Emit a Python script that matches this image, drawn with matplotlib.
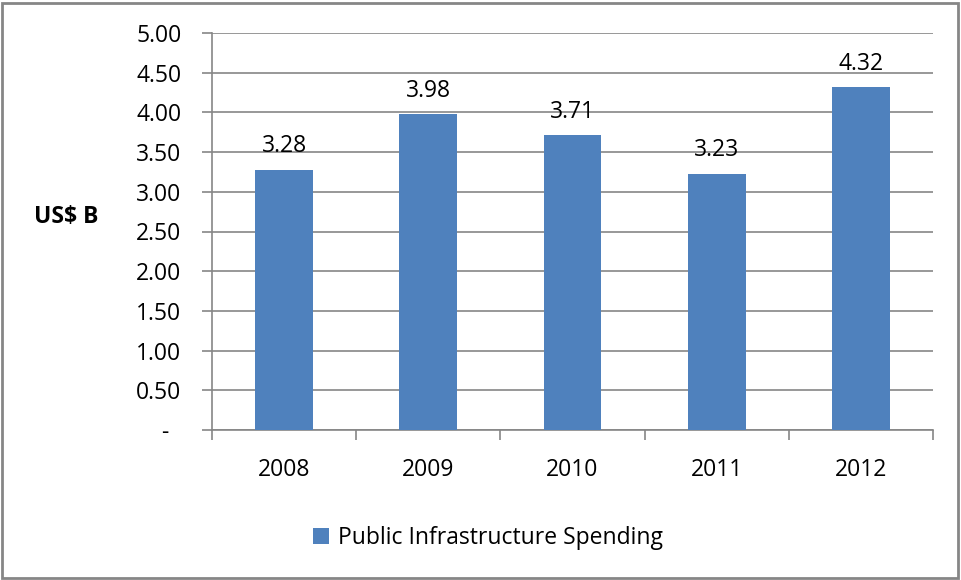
import matplotlib
matplotlib.use("Agg")
import matplotlib.pyplot as plt
from matplotlib.patches import Rectangle
from matplotlib.ticker import FixedLocator

years = ["2008", "2009", "2010", "2011", "2012"]
values = [3.28, 3.98, 3.71, 3.23, 4.32]
yticks = [0, 0.5, 1.0, 1.5, 2.0, 2.5, 3.0, 3.5, 4.0, 4.5, 5.0]
series_name = "Public Infrastructure Spending"

plt.rcParams['font.family'] = ['Open Sans', 'DejaVu Sans']
BAR = "#4F81BD"
GRID = "#868686"
FS = 16.5

fig = plt.figure(figsize=(9.62, 5.80), dpi=100)
ax = fig.add_axes([212/962, 1-430/580, (933-212)/962, (430-33)/580])

x = list(range(len(years)))
bars = ax.bar(x, values, width=0.4, color=BAR, zorder=3, label=series_name)
ax.set_xlim(-0.5, len(years)-0.5)
ax.set_ylim(0, 5.0)

ax.set_yticks(yticks)
ax.set_yticklabels(["-  " if v == 0 else f"{v:.2f}" for v in yticks], fontsize=FS)
ax.yaxis.grid(True, color=GRID, linewidth=1.2, zorder=0)
ax.tick_params(axis='y', length=7, width=1.2, color=GRID, pad=15)

ax.set_xticks(x)
ax.set_xticklabels(years, fontsize=FS)
ax.tick_params(axis='x', which='major', length=0, pad=20)
ax.xaxis.set_minor_locator(FixedLocator([i-0.5 for i in range(len(years)+1)]))
ax.tick_params(axis='x', which='minor', length=7, width=1.2, color=GRID)

for s in ['top', 'right']:
    ax.spines[s].set_visible(False)
for s in ['left', 'bottom']:
    ax.spines[s].set_color(GRID)
    ax.spines[s].set_linewidth(1.2)

for xi, v in zip(x, values):
    ax.annotate(f"{v:.2f}", (xi, v), xytext=(0, 8), textcoords='offset points',
                ha='center', va='bottom', fontsize=FS)

fig.text(66/962, 1-217/580, "US$ B", fontsize=FS, fontweight='bold', ha='center', va='center')

leg = fig.legend(handles=[bars], labels=[series_name], loc='center',
                 bbox_to_anchor=(488/962, 1-538/580), frameon=False, fontsize=FS,
                 handlelength=0.7, handleheight=0.7, handletextpad=0.4)

fig.patches.append(Rectangle((2/962, 2/580), 956/962, 575/580, transform=fig.transFigure,
                             fill=False, edgecolor=GRID, linewidth=2))

fig.savefig("out.png", dpi=100)
